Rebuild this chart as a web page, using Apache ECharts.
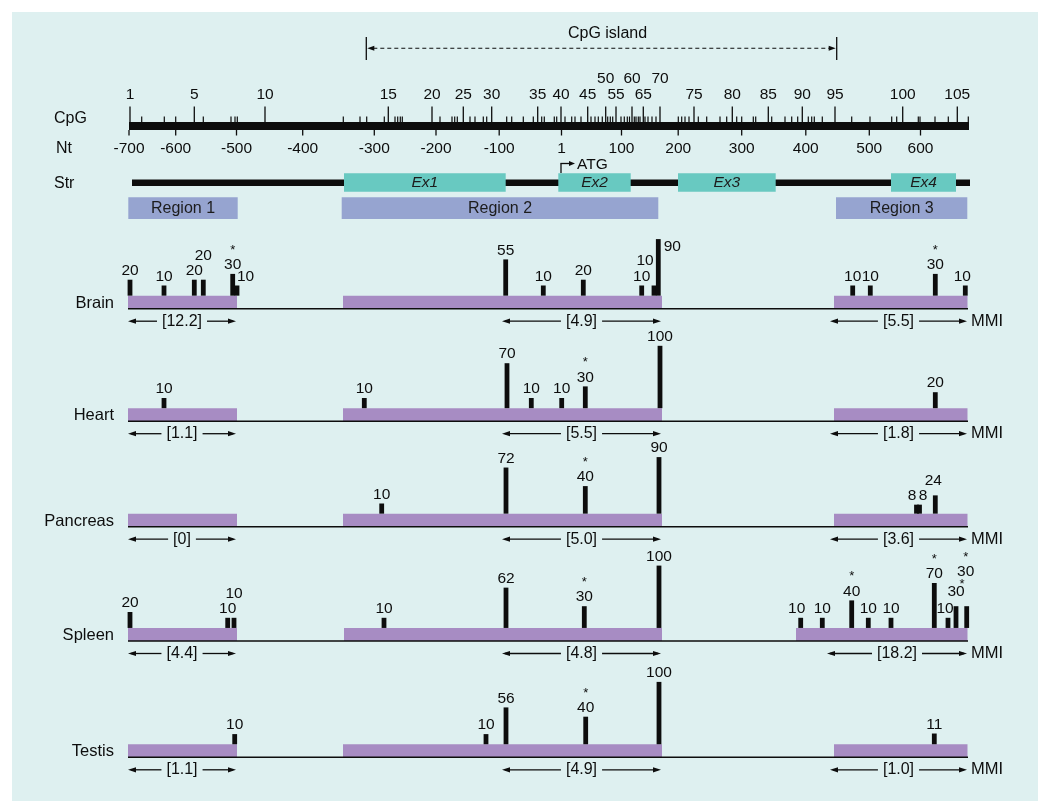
<!DOCTYPE html>
<html>
<head>
<meta charset="utf-8">
<title>CpG methylation map</title>
<script src="https://cdn.jsdelivr.net/npm/echarts@6.0.0/dist/echarts.min.js"></script>
<style>
html,body{margin:0;padding:0;background:#ffffff;}
#chart{width:1050px;height:812px;}
</style>
</head>
<body>
<div id="chart"></div>
<script>
// ================= DATA =================
// x positions are in schematic map units along the gene map (0 = CpG site 1)
const cpgTickLabels = ['1','5','10','15','20','25','30','35','40','45','50','55','60','65','70','75','80','85','90','95','100','105'];
const cpgTickPos = [1,65.3,136,259.3,303,334.3,362.7,408.7,432,458.7,476.7,487,503,514.3,531,565,603.3,639.3,673.3,706,773.7,828.3];
const cpgSitePos = [12.7,35.3,46.7,74.3,102,106,108.3,214.3,231,237.7,255.3,266,268.7,271.3,273.3,311,323,325.7,328.3,341,346,354.3,357.7,377.7,382.7,394.3,404.3,412.7,415.3,425.3,427.7,436,442.7,446,452,462,466,469.3,473.3,478.7,481.3,483.7,492,495.3,498.3,500.5,505.3,507,509.3,511,516,519,523,527,549.3,552.7,556,560,569.3,577.7,591,597.7,607.7,612.7,624.3,626.7,642.7,656,662.7,668.7,679.3,682.7,685.3,693.3,722.7,741,762.7,767.7,789.3,791,806,819.3,839.3];
const ntTickLabels = ['-700','-600','-500','-400','-300','-200','-100','1','100','200','300','400','500','600'];
const ntTickPos = [0,46.7,107.5,173.7,245.3,307,370.2,432.5,492.5,549.2,612.7,676.8,740.3,791.5];
const exonNames = ['Ex1','Ex2','Ex3','Ex4'];
const exonStart = [215,429.3,549,762];
const exonEnd = [376.7,501.7,646.7,827];
const regionNames = ['Region 1','Region 2','Region 3'];
const regionStart = [-0.7,212.7,707];
const regionEnd = [108.7,529.3,838.3];
const cpgIslandSpan = [237.3,707.7];
const cpgMapSpan = [0,840];
const strSpan = [3,841];
const atgPos = 432;

const tissues = ['Brain','Heart','Pancreas','Spleen','Testis'];

const brainPos  = [1,35,65.3,74.3,103.7,108, 376.7,414.3,454.3,512.7,525,529.3, 723.7,741.3,806.3,836.3];
const brainVal  = [20,10,20,20,30,10, 55,10,20,10,10,90, 10,10,30,10];
const brainStar = [0,0,0,0,1,0, 0,0,0,0,0,0, 0,0,1,0];

const heartPos  = [35, 235.3,378,402.3,432.7,456.3,531, 806.3];
const heartVal  = [10, 10,70,10,10,30,100, 20];
const heartStar = [0, 0,0,0,0,1,0, 0];

const pancreasPos  = [252.7,377,456.3,530, 787.5,790.5,806.3];
const pancreasVal  = [10,72,40,90, 8,8,24];
const pancreasStar = [0,0,1,0, 0,0,0];

const spleenPos  = [1,98.7,105, 255,377,455.3,530, 671.7,693.3,722.7,739.3,762,805.3,819,827,837.7];
const spleenVal  = [20,10,10, 10,62,30,100, 10,10,40,10,10,70,10,30,30];
const spleenStar = [0,0,0, 0,0,1,0, 0,0,1,0,0,1,0,1,1];

const testisPos  = [105.7, 357,377,456.7,530, 805.3];
const testisVal  = [10, 10,56,40,100, 11];
const testisStar = [0, 0,0,1,0, 0];

const brainMMI    = [12.2,4.9,5.5];
const heartMMI    = [1.1,5.5,1.8];
const pancreasMMI = [0,5.0,3.6];
const spleenMMI   = [4.4,4.8,18.2];
const testisMMI   = [1.1,4.9,1.0];

const bandStart = [-1,214,705];
const bandEnd   = [108,533,838.5];
const spleenBandStart = [-1,215,667];
const mmiStart = [-1,373,701];
const mmiEnd   = [107,532,838];
const spleenMmiStart = [-1,373,698];

// ================= LAYOUT / STYLE =================
const FAM = '"Liberation Sans", Arial, Helvetica, sans-serif';
const INK = '#0d0d0d';
const TEAL = '#68c9c1';
const REGION_BLUE = '#96a4d0';
const BAND_PURPLE = '#a78cc3';
const X_MIN = -2, X_MAX = 842, GRID_LEFT = 127, GRID_W = 844;
const TRACK_BASE = [308.7, 421.2, 526.7, 641, 757.3];
const Y_MIN = -30, Y_MAX = 110, BAR_FLOOR = -7.5, TRACK_H = 81.2;
const BAR_W = 4.8;
const raisedCpgLabels = ['50','60','70'];
const labelNudge = {
  'Brain-3':{dy:-15}, 'Brain-5':{dx:8.5}, 'Brain-10':{dx:-9,dy:-16}, 'Brain-11':{dx:14,dy:16.5}, 'Brain-15':{dx:-3},
  'Pancreas-4':{dx:-4.5}, 'Pancreas-5':{dx:3.5}, 'Pancreas-6':{dx:-2,dy:-6},
  'Spleen-2':{dy:-15.5}, 'Spleen-7':{dx:-4}, 'Spleen-13':{dx:-3}, 'Spleen-14':{dy:-5,sdx:6,sdy:7}, 'Spleen-15':{dx:-1,dy:-25}
};

function font(size, style){ return (style ? style + ' ' : '') + size + 'px ' + FAM; }
function lineEl(x1,y1,x2,y2,w,extra){ return {type:'line', shape:{x1:x1,y1:y1,x2:x2,y2:y2}, style:Object.assign({stroke:INK, lineWidth:w}, extra||{})}; }
function rectEl(x,y,w,h,fill){ return {type:'rect', shape:{x:x,y:y,width:w,height:h}, style:{fill:fill}}; }
function textEl(t,x,y,f,align,valign,fill){ return {type:'text', style:{text:t,x:x,y:y,font:f,fill:fill||INK,textAlign:align||'center',textVerticalAlign:valign||'middle'}}; }
function triEl(pts){ return {type:'polygon', shape:{points:pts}, style:{fill:INK}}; }
const mctx = document.createElement('canvas').getContext('2d');
function textW(t,f){ mctx.font = f; return mctx.measureText(t).width; }

const chart = echarts.init(document.getElementById('chart'), null, {renderer:'canvas'});
const grid = [], xAxis = [], yAxis = [], series = [];
function addGrid(top, height, ymin, ymax, inverse){
  const i = grid.length;
  grid.push({left:GRID_LEFT, top:top, width:GRID_W, height:height, show:false});
  xAxis.push({type:'value', gridIndex:i, min:X_MIN, max:X_MAX, show:false});
  yAxis.push({type:'value', gridIndex:i, min:ymin, max:ymax, inverse:!!inverse, show:false});
  return i;
}
function custom(gi, data, renderItem, z){
  series.push({type:'custom', xAxisIndex:gi, yAxisIndex:gi, data:data, renderItem:renderItem, silent:true, animation:false, clip:false, z:z||2});
}

// ---------- header ----------
const hg = addGrid(0, 240, 0, 240, true);

custom(hg, [[0,0]], function(params, api){
  const P = function(x,y){ return api.coord([x,y]); };
  const els = [];
  // CpG island arrow
  const L = P(cpgIslandSpan[0],48.3), R = P(cpgIslandSpan[1],48.3);
  els.push(lineEl(L[0],P(0,37)[1],L[0],P(0,60)[1],1.3));
  els.push(lineEl(R[0],P(0,37)[1],R[0],P(0,60)[1],1.3));
  els.push(lineEl(L[0]+7,L[1],R[0]-7,R[1],1.1,{lineDash:[4,3]}));
  els.push(triEl([[L[0]+1,L[1]],[L[0]+8,L[1]-2.5],[L[0]+8,L[1]+2.5]]));
  els.push(triEl([[R[0]-1,R[1]],[R[0]-8,R[1]-2.5],[R[0]-8,R[1]+2.5]]));
  els.push(textEl('CpG island',(L[0]+R[0])/2+6,P(0,34)[1],font(16)));
  // CpG bar
  const a = P(cpgMapSpan[0],122), b = P(cpgMapSpan[1],130);
  els.push(rectEl(a[0],a[1],b[0]-a[0],b[1]-a[1],INK));
  // Str line
  const s1 = P(strSpan[0],179.4), s2 = P(strSpan[1],186);
  els.push(rectEl(s1[0],s1[1],s2[0]-s1[0],s2[1]-s1[1],INK));
  // ATG
  const g = P(atgPos,173);
  const gy = P(0,163.5)[1];
  els.push(lineEl(g[0],g[1],g[0],gy,1.3));
  els.push(lineEl(g[0]-0.6,gy,g[0]+9,gy,1.3));
  els.push(triEl([[g[0]+14,gy],[g[0]+8,gy-2.6],[g[0]+8,gy+2.6]]));
  els.push(textEl('ATG',g[0]+16,P(0,164.8)[1],font(15.5),'left'));
  // row labels
  els.push(textEl('CpG',54,P(0,119)[1],font(16),'left'));
  els.push(textEl('Nt',56,P(0,148.5)[1],font(16),'left'));
  els.push(textEl('Str',54,P(0,183.3)[1],font(16),'left'));
  return {type:'group', children:els};
});

// CpG site ticks
custom(hg, cpgSitePos.map(function(x){ return [x,0]; }), function(params, api){
  const t = api.coord([api.value(0),116.5]), b = api.coord([api.value(0),122]);
  return lineEl(t[0],t[1],b[0],b[1],1.2);
});
// labelled CpG ticks
custom(hg, cpgTickPos.map(function(x,i){ return [x,0,i]; }), function(params, api){
  const i = api.value(2);
  const lab = cpgTickLabels[i];
  const t = api.coord([api.value(0),106.5]), b = api.coord([api.value(0),122]);
  const ly = api.coord([0, raisedCpgLabels.indexOf(lab) >= 0 ? 78.3 : 95])[1];
  return {type:'group', children:[lineEl(t[0],t[1],b[0],b[1],1.3), textEl(lab,t[0],ly,font(15.5))]};
});
// Nt ticks
custom(hg, ntTickPos.map(function(x,i){ return [x,0,i]; }), function(params, api){
  const i = api.value(2);
  const t = api.coord([api.value(0),130]), b = api.coord([api.value(0),135.5]);
  const ly = api.coord([0,148.5])[1];
  return {type:'group', children:[lineEl(t[0],t[1],b[0],b[1],1.3), textEl(ntTickLabels[i],t[0],ly,font(15.5))]};
});
// exons
custom(hg, exonStart.map(function(x,i){ return [x,exonEnd[i],i]; }), function(params, api){
  const a = api.coord([api.value(0),173.3]), b = api.coord([api.value(1),191.7]);
  return {type:'group', children:[rectEl(a[0],a[1],b[0]-a[0],b[1]-a[1],TEAL),
    textEl(exonNames[api.value(2)],(a[0]+b[0])/2,api.coord([0,182.6])[1],font(15.5,'italic'),'center','middle','#1c1c1c')]};
});
// regions
custom(hg, regionStart.map(function(x,i){ return [x,regionEnd[i],i]; }), function(params, api){
  const a = api.coord([api.value(0),197.3]), b = api.coord([api.value(1),219]);
  return {type:'group', children:[rectEl(a[0],a[1],b[0]-a[0],b[1]-a[1],REGION_BLUE),
    textEl(regionNames[api.value(2)],(a[0]+b[0])/2,api.coord([0,208.4])[1],font(16),'center','middle','#1c1c1c')]};
});

// ---------- tissue tracks ----------
const tissuePos = [brainPos, heartPos, pancreasPos, spleenPos, testisPos];
const tissueVal = [brainVal, heartVal, pancreasVal, spleenVal, testisVal];
const tissueStar = [brainStar, heartStar, pancreasStar, spleenStar, testisStar];
const tissueMMI = [brainMMI, heartMMI, pancreasMMI, spleenMMI, testisMMI];

tissues.forEach(function(name, ti){
  const gi = addGrid(TRACK_BASE[ti] - TRACK_H, TRACK_H, Y_MIN, Y_MAX, false);
  const bStart = name === 'Spleen' ? spleenBandStart : bandStart;
  const mStart = name === 'Spleen' ? spleenMmiStart : mmiStart;
  // bands
  custom(gi, bStart.map(function(x,k){ return [x,bandEnd[k]]; }), function(params, api){
    const a = api.coord([api.value(0),BAR_FLOOR]), b = api.coord([api.value(1),Y_MIN]);
    return rectEl(a[0],a[1],b[0]-a[0],b[1]-a[1],BAND_PURPLE);
  }, 2);
  // baseline + tissue name
  custom(gi, [[-1,839]], function(params, api){
    const a = api.coord([api.value(0),Y_MIN]), b = api.coord([api.value(1),Y_MIN]);
    return {type:'group', children:[lineEl(a[0],a[1],b[0],b[1],1.6),
      textEl(name, api.coord([X_MIN,0])[0]-13, a[1]-5.5, font(16.5), 'right')]};
  }, 3);
  // methylation bars
  const pos = tissuePos[ti], val = tissueVal[ti], star = tissueStar[ti];
  custom(gi, pos.map(function(x,k){ return [x,val[k],k]; }), function(params, api){
    const k = api.value(2), v = api.value(1);
    const top = api.coord([api.value(0),v]), bot = api.coord([api.value(0),BAR_FLOOR]);
    const n = labelNudge[name + '-' + k] || {};
    const els = [rectEl(top[0]-BAR_W/2, top[1], BAR_W, bot[1]-top[1], INK)];
    const lx = top[0] + (n.dx||0), ly = top[1] - 1 + (n.dy||0);
    els.push(textEl(String(v), lx, ly, font(15.5), 'center', 'bottom'));
    if (star[k]) els.push(textEl('*', lx + (n.sdx||0), ly - 22.5 + (n.sdy||0), font(13), 'center', 'middle'));
    return {type:'group', children:els};
  }, 4);
  // MMI annotations
  const mmi = tissueMMI[ti];
  custom(gi, mStart.map(function(x,k){ return [x,mmiEnd[k],k]; }), function(params, api){
    const k = api.value(2);
    const a = api.coord([api.value(0),Y_MIN]), b = api.coord([api.value(1),Y_MIN]);
    const y = a[1] + 12.5;
    const v = mmi[k];
    const t = '[' + (v === 0 ? '0' : v.toFixed(1)) + ']';
    const f = font(16);
    const w = textW(t,f);
    const mid = (a[0]+b[0])/2;
    const els = [
      lineEl(a[0]+3,y,mid-w/2-5,y,1.3),
      lineEl(mid+w/2+5,y,b[0]-3,y,1.3),
      triEl([[a[0],y],[a[0]+8,y-2.6],[a[0]+8,y+2.6]]),
      triEl([[b[0],y],[b[0]-8,y-2.6],[b[0]-8,y+2.6]]),
      textEl(t,mid,y,f)
    ];
    if (k === mStart.length - 1) els.push(textEl('MMI', b[0]+4, y, font(16.5), 'left'));
    return {type:'group', children:els};
  }, 4);
});

chart.setOption({
  animation:false,
  backgroundColor:'#ffffff',
  graphic:[{type:'rect', z:-10, silent:true, shape:{x:12,y:12,width:1026,height:789}, style:{fill:'#def0f0'}}],
  grid:grid, xAxis:xAxis, yAxis:yAxis, series:series
});
</script>
</body>
</html>
